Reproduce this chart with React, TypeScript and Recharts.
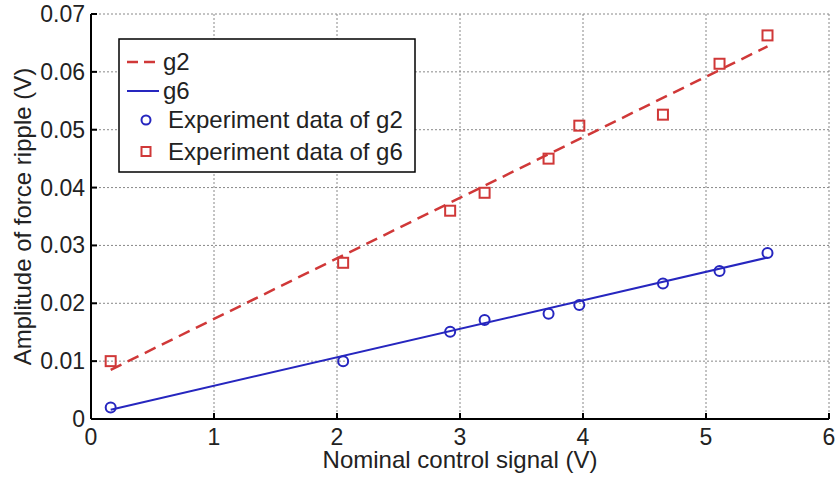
import {
  ComposedChart,
  Line,
  Scatter,
  XAxis,
  YAxis,
  CartesianGrid,
  Legend,
} from "recharts";

// fitted lines (two end points each)
const fitX = [0.16, 5.5];
const g2Fit = [0.0085, 0.0644];
const g6Fit = [0.0016, 0.0279];

// measured points
const expX = [0.16, 2.05, 2.92, 3.2, 3.72, 3.97, 4.65, 5.11, 5.5];
const expG2 = [0.002, 0.01, 0.0151, 0.0171, 0.0182, 0.0197, 0.0234, 0.0256, 0.0287];
const expG6 = [0.01, 0.027, 0.036, 0.0391, 0.045, 0.0507, 0.0526, 0.0614, 0.0663];

const xTicks = [0, 1, 2, 3, 4, 5, 6];
const yTicks = [0, 0.01, 0.02, 0.03, 0.04, 0.05, 0.06, 0.07];

const RED = "#d03838";
const BLUE = "#2626bf";
const FONT = "'Liberation Sans', Arial, Helvetica, sans-serif";

const toPts = (xs: number[], ys: number[]) => xs.map((x, i) => ({ x, y: ys[i] }));

const g2Line = toPts(fitX, g2Fit);
const g6Line = toPts(fitX, g6Fit);
const g2Points = toPts(expX, expG2);
const g6Points = toPts(expX, expG6);

const TICK_LEN = 6;
const X_MARGIN = 9;
const Y_MARGIN = 6;

const BottomTick = (props: any) => {
  const { x, y, payload } = props;
  const axisY = y - X_MARGIN;
  return (
    <g>
      <line x1={x} x2={x} y1={axisY} y2={axisY - TICK_LEN} stroke="#000" strokeWidth={2} />
      <text x={x} y={y + 17} textAnchor="middle" fontSize={23} fontFamily={FONT} fill="#222">
        {payload.value}
      </text>
    </g>
  );
};

const LeftTick = (props: any) => {
  const { x, y, payload } = props;
  const axisX = x + Y_MARGIN;
  return (
    <g>
      <line x1={axisX} x2={axisX + TICK_LEN} y1={y} y2={y} stroke="#000" strokeWidth={2} />
      <text x={x} y={y + 8} textAnchor="end" fontSize={23} fontFamily={FONT} fill="#222">
        {payload.value}
      </text>
    </g>
  );
};

const TopTick = (props: any) => {
  const { x, y } = props;
  return <line x1={x} x2={x} y1={y} y2={y + TICK_LEN} stroke="#000" strokeWidth={2} />;
};

const RightTick = (props: any) => {
  const { x, y } = props;
  return <line x1={x} x2={x - TICK_LEN} y1={y} y2={y} stroke="#000" strokeWidth={2} />;
};

const Circle = (props: any) => (
  <circle cx={props.cx} cy={props.cy} r={5} fill="none" stroke={BLUE} strokeWidth={2} />
);

const Square = (props: any) => (
  <rect x={props.cx - 5} y={props.cy - 5} width={10} height={10} fill="none" stroke={RED} strokeWidth={2} />
);

const LegendBox = () => (
  <svg width={298} height={135}>
    <rect x={1} y={1} width={296} height={133} fill="#fff" stroke="#000" strokeWidth={1.5} />
    <line x1={9} x2={41} y1={24} y2={24} stroke={RED} strokeWidth={2.5} strokeDasharray="11 6" />
    <text x={45} y={32} fontSize={24} fontFamily={FONT} fill="#222">g2</text>
    <line x1={9} x2={41} y1={53} y2={53} stroke={BLUE} strokeWidth={2} />
    <text x={45} y={61} fontSize={24} fontFamily={FONT} fill="#222">g6</text>
    <circle cx={28} cy={82} r={4.5} fill="none" stroke={BLUE} strokeWidth={2} />
    <text x={50} y={90} fontSize={24} fontFamily={FONT} fill="#222">Experiment data of g2</text>
    <rect x={23.5} y={109} width={9} height={9} fill="none" stroke={RED} strokeWidth={2} />
    <text x={50} y={122} fontSize={24} fontFamily={FONT} fill="#222">Experiment data of g6</text>
  </svg>
);

const YLabel = (props: any) => {
  const vb = props.viewBox;
  const cx = vb.x + 22;
  const cy = vb.y + vb.height / 2;
  return (
    <text
      x={cx}
      y={cy}
      transform={`rotate(-90, ${cx}, ${cy})`}
      textAnchor="middle"
      dominantBaseline="central"
      fontSize={24}
      fontFamily={FONT}
      fill="#222"
    >
      Amplitude of force ripple (V)
    </text>
  );
};

export default function App() {
  return (
    <div style={{ position: "absolute", left: 0, top: 0, background: "#fff" }}>
      <ComposedChart
        width={837}
        height={478}
        margin={{ top: 14, right: 8, bottom: 0, left: 0 }}
      >
        <CartesianGrid
          stroke="#888"
          strokeDasharray="2 2"
          horizontalValues={yTicks}
          verticalValues={xTicks}
        />
        <XAxis
          dataKey="x"
          type="number"
          domain={[0, 6]}
          ticks={xTicks}
          height={59}
          tickSize={0}
          tickMargin={X_MARGIN}
          axisLine={{ stroke: "#000", strokeWidth: 2 }}
          tickLine={false}
          tick={BottomTick}
          allowDataOverflow
          label={{
            value: "Nominal control signal (V)",
            position: "insideBottom",
            offset: 10,
            style: { fontSize: 24, fontFamily: FONT, fill: "#222" },
          }}
        />
        <XAxis
          xAxisId="top"
          orientation="top"
          type="number"
          domain={[0, 6]}
          ticks={xTicks}
          height={0}
          tickSize={0}
          tickMargin={0}
          axisLine={{ stroke: "#000", strokeWidth: 2 }}
          tickLine={false}
          tick={TopTick}
          allowDataOverflow
        />
        <YAxis
          dataKey="y"
          type="number"
          domain={[0, 0.07]}
          ticks={yTicks}
          width={91}
          tickSize={0}
          tickMargin={Y_MARGIN}
          axisLine={{ stroke: "#000", strokeWidth: 2 }}
          tickLine={false}
          tick={LeftTick}
          allowDataOverflow
          label={{ content: YLabel }}
        />
        <YAxis
          yAxisId="right"
          orientation="right"
          type="number"
          domain={[0, 0.07]}
          ticks={yTicks}
          width={0}
          tickSize={0}
          tickMargin={0}
          axisLine={{ stroke: "#000", strokeWidth: 2 }}
          tickLine={false}
          tick={RightTick}
          allowDataOverflow
        />
        <Legend
          layout="vertical"
          align="center"
          verticalAlign="middle"
          content={LegendBox}
          wrapperStyle={{ left: 118, top: 38, width: 298, height: 135 }}
        />
        <Line
          data={g2Line}
          dataKey="y"
          type="linear"
          stroke={RED}
          strokeWidth={2.5}
          strokeDasharray="12 7"
          dot={false}
          activeDot={false}
          isAnimationActive={false}
        />
        <Line
          data={g6Line}
          dataKey="y"
          type="linear"
          stroke={BLUE}
          strokeWidth={2}
          dot={false}
          activeDot={false}
          isAnimationActive={false}
        />
        <Scatter data={g2Points} dataKey="y" shape={Circle} isAnimationActive={false} />
        <Scatter data={g6Points} dataKey="y" shape={Square} isAnimationActive={false} />
      </ComposedChart>
    </div>
  );
}
